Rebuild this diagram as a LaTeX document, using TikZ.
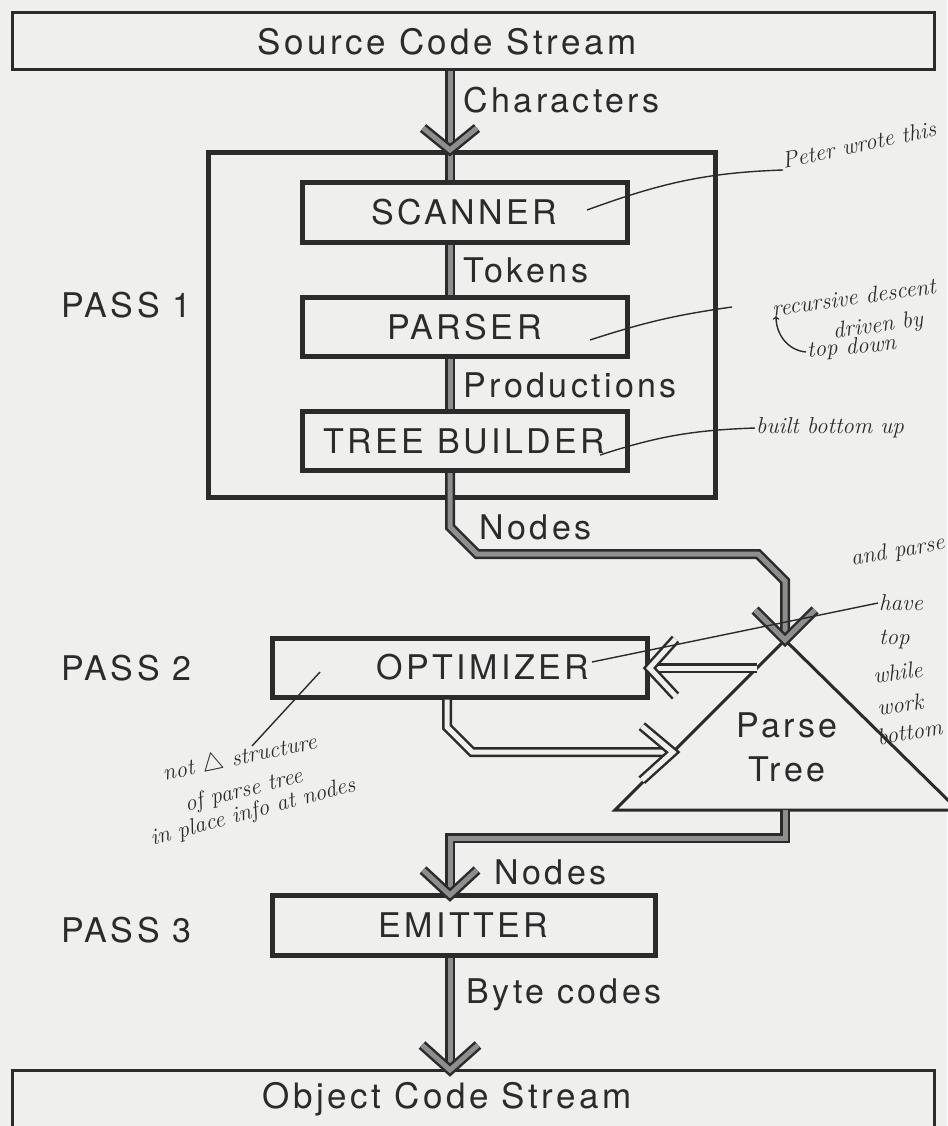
\documentclass[tikz,border=0pt]{standalone}
\usepackage{fontspec}
\newfontfamily\labelfont[LetterSpace=10]{TeX Gyre Heros}
\usetikzlibrary{calc}
\definecolor{ink}{HTML}{2B2B2B}
\definecolor{bandgray}{HTML}{8E8E8E}
\definecolor{paper}{HTML}{EFEFEE}

\begin{document}
\begin{tikzpicture}[x=1pt, y=-1pt,
    lbl/.style={font=\labelfont\fontsize{34}{44}\selectfont, text=ink},
    streambox/.style={draw=ink, line width=3pt, inner sep=0pt},
    streamlbl/.style={font=\labelfont\fontsize{35}{40}\selectfont, text=ink},
    stagebox/.style={draw=ink, line width=5pt, inner sep=0pt, minimum height=59pt},
    band/.style={draw=ink, line width=2.5pt, double=bandgray, double distance=5pt},
    hollow/.style={draw=ink, line width=2.5pt, double=paper, double distance=5pt},
    hand/.style={font=\itshape\fontsize{23}{26}\selectfont, text=ink, inner sep=1pt},
    handline/.style={ink, line width=1.4pt}]

    % paper and page size
    \fill[paper] (0,0) rectangle (947,1126);
    \useasboundingbox (0,0) rectangle (947,1126);

    % input and output streams
    \node[streambox, minimum width=922pt, minimum height=57pt] (src) at (473,41.5) {};
    \node[streamlbl] (srclbl) at (447,42) {Source Code Stream};
    \node[streambox, minimum width=922pt, minimum height=70pt] (obj) at (473,1105) {};
    \node[streamlbl] (objlbl) at (447,1099) {Object Code Stream};

    % pass 1
    \node[draw=ink, line width=5pt, minimum width=507pt, minimum height=344pt] (pass1box) at (461.5,325) {};
    \node[stagebox, lbl, minimum width=325pt] (scan) at (464.5,212.5) {SCANNER};
    \node[stagebox, lbl, minimum width=325pt] (pars) at (464.5,327) {PARSER};
    \node[stagebox, lbl, minimum width=325pt] (build) at (464.5,441) {TREE BUILDER};

    % pass 2 and 3
    \node[stagebox, minimum width=375pt] (opt) at (459.5,667.5) {};
    \node[lbl] (optlbl) at (483,667.5) {OPTIMIZER};
    \node[stagebox, lbl, minimum width=383pt, minimum height=60pt] (emit) at (463.5,925) {EMITTER};

    % parse tree
    \coordinate (apex) at (785,640);
    \coordinate (lb) at (615,810);
    \coordinate (rb) at (958,810);
    \draw[ink, line width=3pt] (apex) -- (lb) -- (rb) -- cycle;
    \node[lbl, align=center] (tree) at (787,747) {Parse\\Tree};

    % pass labels
    \node[lbl, anchor=west] (p1) at (58,305) {PASS 1};
    \node[lbl, anchor=west] (p2) at (58,668) {PASS 2};
    \node[lbl, anchor=west] (p3) at (58,930) {PASS 3};

    % main flow
    \coordinate (t1) at (450,150);
    \coordinate (t3) at (450,895);
    \coordinate (t4) at (450,1070);
    \coordinate (tbase) at (785,810);
    \draw[band] (src.south -| t1) -- (scan.north -| t1);
    \draw[band] ($(t1)+(-27,-22)$) -- (t1) -- ($(t1)+(27,-22)$);
    \draw[band] (scan.south -| t1) -- (pars.north -| t1);
    \draw[band] (pars.south -| t1) -- (build.north -| t1);
    \draw[band] (build.south -| t1) -- (450,527) -- (477,554) -- (758,554) -- (785,581) -- (apex);
    \draw[band] ($(apex)+(-30,-30)$) -- (apex) -- ($(apex)+(30,-30)$);
    \draw[band] (tbase) -- (785,838) -- (450,838) -- (t3);
    \draw[band] ($(t3)+(-27,-25)$) -- (t3) -- ($(t3)+(27,-25)$);
    \draw[band] (emit.south -| t1) -- (t4);
    \draw[band] ($(t4)+(-28,-25)$) -- (t4) -- ($(t4)+(28,-25)$);

    % flow labels
    \node[lbl, anchor=west] (chars) at (460,100) {Characters};
    \node[lbl, anchor=west] (toks) at (460,270) {Tokens};
    \node[lbl, anchor=west] (prods) at (460,385) {Productions};
    \node[lbl, anchor=west] (nodes1) at (476,527) {Nodes};
    \node[lbl, anchor=west] (nodes2) at (491,872) {Nodes};
    \node[lbl, anchor=west] (bytes) at (463,995) {Byte codes};

    % optimizer <-> parse tree
    \coordinate (e1) at ($(apex)!0.165!(lb)$);
    \coordinate (e2) at ($(apex)!0.66!(lb)$);
    \coordinate (o2) at ([xshift=-12.5pt]opt.south);
    \draw[hollow] (e1) -- (e1 -| opt.east);
    \draw[hollow] ($(e1 -| opt.east)+(26,-29)$) -- (e1 -| opt.east) -- ($(e1 -| opt.east)+(26,28)$);
    \draw[hollow] (o2) -- (447,727) -- (472,752) -- (e2);
    \draw[hollow] ($(e2)+(-31,-26)$) -- (e2) -- ($(e2)+(-31,28)$);

    % handwritten notes
    \node[hand, anchor=south west, rotate=12] (n1) at (783,170) {Peter wrote this};
    \node[hand, anchor=south west, rotate=8] (n2) at (772,318) {recursive descent};
    \node[hand, anchor=west, rotate=8] (n3) at (832,333) {driven by};
    \node[hand, anchor=west, rotate=5] (n4) at (806,352) {top down};
    \node[hand, anchor=west] (n5) at (755,428) {built bottom up};
    \node[hand, anchor=west, rotate=10] (n6) at (850,560) {and parse};
    \node[hand, anchor=west] (n7) at (878,603) {have};
    \node[hand, anchor=west] (n8) at (878,640) {top};
    \node[hand, anchor=west, rotate=8] (n9) at (872,676) {while};
    \node[hand, anchor=west, rotate=8] (n10) at (876,708) {work};
    \node[hand, anchor=west, rotate=10] (n11) at (876,738) {bottom};
    \node[hand, anchor=west, rotate=12] (n12) at (162,775) {not $\triangle$ structure};
    \node[hand, anchor=west, rotate=14] (n13) at (184,806) {of parse tree};
    \node[hand, anchor=west, rotate=15] (n14) at (150,840) {in place info at nodes};

    \coordinate (q1) at (587,210);
    \coordinate (q2) at (590,340);
    \coordinate (r2) at (732,307);
    \coordinate (q4) at (776,316);
    \coordinate (q5) at (600,455);
    \coordinate (q6) at (592,662);
    \coordinate (q7) at (320,672);
    \coordinate (r7) at (252,746);
    \draw[handline] (q1) to[out=20, in=182] (n1.south west);
    \draw[handline] (q2) to[out=18, in=188] (r2);
    \draw[handline, ->] (n4.west) to[out=175, in=-90] (q4);
    \draw[handline] (q5) to[out=18, in=182] (n5.west);
    \draw[handline] (q6) -- (n7.west);
    \draw[handline] (q7) -- (r7);
\end{tikzpicture}
\end{document}
